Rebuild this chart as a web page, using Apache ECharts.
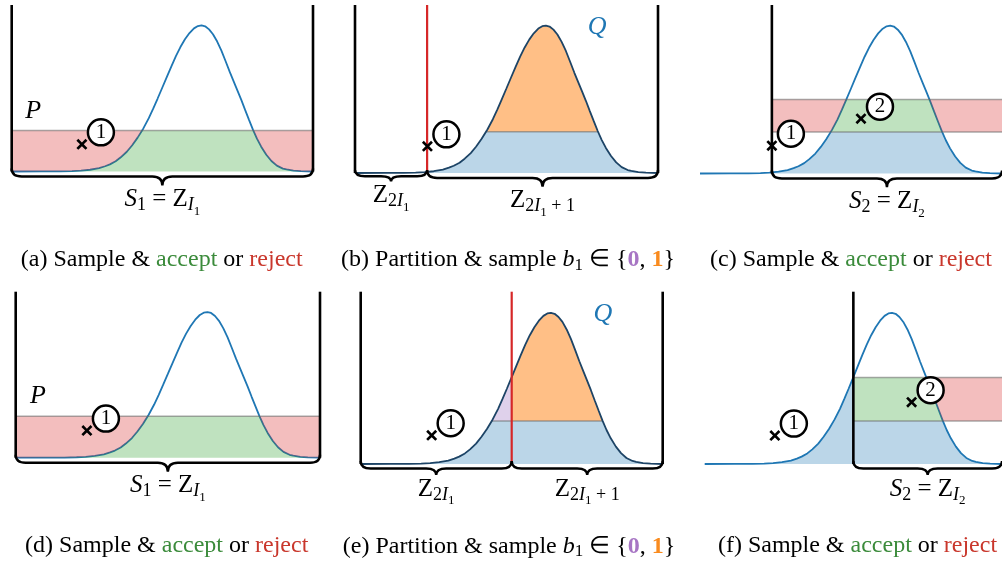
<!DOCTYPE html>
<html><head><meta charset="utf-8">
<script src="https://cdn.jsdelivr.net/npm/echarts@6/dist/echarts.min.js"></script>
<style>html,body{margin:0;padding:0;background:#fff}#c{width:1002px;height:564px}</style>
</head><body><div id="c"></div>
<script>
// ---------- data ----------
// density curve Q (x in panel units 0..10, height relative to peak)
const curveX = [0.0,1.0,1.6,2.0,2.3,2.6,2.9,3.1,3.26,3.45,3.62,3.82,4.0,4.18,4.37,4.55,4.70,4.84,5.0,5.15,5.30,5.45,5.60,5.75,5.90,6.05,6.18,6.30,6.42,6.55,6.68,6.82,6.96,7.10,7.24,7.38,7.50,7.62,7.75,7.88,8.01,8.14,8.28,8.45,8.62,8.80,9.0,9.12,9.35,9.6,10.0];
const curveQ = [0.000,0.001,0.001,0.003,0.006,0.012,0.023,0.036,0.049,0.070,0.097,0.135,0.180,0.232,0.295,0.365,0.432,0.498,0.575,0.648,0.720,0.790,0.852,0.905,0.948,0.980,0.996,1.000,0.994,0.973,0.940,0.890,0.828,0.755,0.680,0.610,0.550,0.490,0.420,0.352,0.285,0.225,0.170,0.115,0.072,0.040,0.020,0.014,0.006,0.002,0.000];
const partitionB = 2.38;          // split Z_{2I1} | Z_{2I1+1} in (b),(c)
const partitionE = 5.0;           // split in (e),(f)
const acceptA = 0.28;             // P level in (a),(b)
const acceptD = 0.285;            // P level in (d),(e)
const bandC = [0.28, 0.50];       // second band in (c)
const bandF = [0.285, 0.573];     // second band in (f)
const markersA = [[2.33, 0.186]];
const markersB = [[2.39, 0.181]];
const markersC = [[2.38, 0.188], [5.33, 0.371]];
const markersD = [[2.34, 0.186]];
const markersE = [[2.35, 0.19]];
const markersF = [[2.36, 0.188], [6.96, 0.409]];
const markerNums1 = ['1'];
const markerNums2 = ['1', '2'];
const labelP = [[0.71, 0.41], [0.73, 0.42]];   // P in (a),(d)
const labelQ = [[7.99, 0.99], [8.02, 0.99]];   // Q in (b),(e)
const braceS1 = '{it|S}{sub|1}{rm| = Z}{subit|I}{subsub|1}';
const braceS2 = '{it|S}{sub|2}{rm| = Z}{subit|I}{subsub|2}';
const braceZ0 = '{rm|Z}{sub|2}{subit|I}{subsub|1}';
const braceZ1 = '{rm|Z}{sub|2}{subit|I}{subsub|1}{sub| + 1}';
const captions = [
  '{rm|(a) Sample & }{g|accept}{rm| or }{r|reject}',
  '{rm|(b) Partition & sample }{it|b}{sub|1}{rm| ∈ {}{p|0}{rm|, }{o|1}}',
  '{rm|(c) Sample & }{g|accept}{rm| or }{r|reject}',
  '{rm|(d) Sample & }{g|accept}{rm| or }{r|reject}',
  '{rm|(e) Partition & sample }{it|b}{sub|1}{rm| ∈ {}{p|0}{rm|, }{o|1}}',
  '{rm|(f) Sample & }{g|accept}{rm| or }{r|reject}'
];

// ---------- styling / layout ----------
const YMAX = 1.14;
const SERIF = "'Liberation Serif','Times New Roman',serif";
const COL = {green:'rgba(44,160,44,0.3)', red:'rgba(214,39,40,0.3)', blue:'rgba(31,119,180,0.3)',
             orange:'rgba(255,127,14,0.5)', purple:'rgba(148,103,189,0.3)'};
const captionPos = [[161.7,260],[508,260],[851,260],[166.7,546],[509,546.5],[857.5,546]];
const boxes = [
  {left:11.7, top:5, width:301.3, height:166.5},
  {left:355, top:5, width:303, height:168},
  {left:700, top:5, width:302, height:168.5},
  {left:15.7, top:291.7, width:304.3, height:166},
  {left:360.7, top:291.7, width:302, height:172.3},
  {left:704.7, top:291.7, width:302, height:172.3}
];
const CROSS = 'path://M1.7,0L5,3.3L8.3,0L10,1.7L6.7,5L10,8.3L8.3,10L5,6.7L1.7,10L0,8.3L3.3,5L0,1.7Z';

function richFor(sz){
  const b = {fontFamily:SERIF};
  const s1 = Math.round(sz*0.7), s2 = Math.round(sz*0.52);
  const mk = (o)=>Object.assign({}, b, o);
  return {
    rm: mk({fontSize:sz, fill:'#000', color:'#000'}),
    it: mk({fontSize:sz, fontStyle:'italic', fill:'#000', color:'#000'}),
    sub: mk({fontSize:s1, padding:[Math.round(sz*0.46),0,0,0], fill:'#000', color:'#000'}),
    subit: mk({fontSize:s1, fontStyle:'italic', padding:[Math.round(sz*0.46),0,0,0], fill:'#000', color:'#000'}),
    subsub: mk({fontSize:s2, padding:[Math.round(sz*0.95),0,0,0], fill:'#000', color:'#000'}),
    g: mk({fontSize:sz, fill:'#3b8b3b', color:'#3b8b3b'}),
    r: mk({fontSize:sz, fill:'#c9372c', color:'#c9372c'}),
    p: mk({fontSize:sz, fontWeight:'bold', fill:'#a775c4', color:'#a775c4'}),
    o: mk({fontSize:sz, fontWeight:'bold', fill:'#f98b1e', color:'#f98b1e'})
  };
}

// ---------- geometry helpers (polyline of the curve) ----------
function qAt(x){
  if (x <= curveX[0]) return curveQ[0];
  for (let i=0;i<curveX.length-1;i++){
    if (x <= curveX[i+1]){ const t=(x-curveX[i])/(curveX[i+1]-curveX[i]); return curveQ[i]+t*(curveQ[i+1]-curveQ[i]); }
  }
  return curveQ[curveQ.length-1];
}
function refined(xa, xb, levels){
  const pts = [[xa, qAt(xa)]];
  for (let i=0;i<curveX.length-1;i++){
    const x0=curveX[i], x1=curveX[i+1], y0=curveQ[i], y1=curveQ[i+1];
    const cs=[];
    levels.forEach(l=>{ if ((y0-l)*(y1-l)<0){ cs.push(x0+(l-y0)/(y1-y0)*(x1-x0)); } });
    cs.sort((a,b)=>a-b).forEach(cx=>{ if (cx>xa && cx<xb) pts.push([cx, qAt(cx)]); });
    if (x1>xa && x1<xb) pts.push([x1, y1]);
  }
  pts.push([xb, qAt(xb)]);
  return pts;
}
const clamp=(v,a,b)=>Math.max(a,Math.min(b,v));
function regionPoly(r){
  const lv=[r.lo, r.hi].filter(isFinite);
  const pts = refined(r.xa, r.xb, lv);
  if (r.t==='in'){
    return pts.map(p=>[p[0], clamp(p[1], r.lo, r.hi)]).concat([[r.xb, r.lo],[r.xa, r.lo]]);
  }
  return [[r.xa, r.hi],[r.xb, r.hi]].concat(pts.reverse().map(p=>[p[0], clamp(p[1], r.lo, r.hi)]));
}
function edgePts(e){
  if (!e.under) return [[e.xa, e.y],[e.xb, e.y]];
  const pts = refined(e.xa, e.xb, [e.y]).filter(p=>p[1] >= e.y-1e-9);
  const xs = pts.map(p=>p[0]);
  return [[Math.min(...xs), e.y],[Math.max(...xs), e.y]];
}

// ---------- panels ----------
const panels = [
  {navy:false, walls:[[0,'#000'],[10,'#000']],
   fills:[{t:'in',xa:0,xb:10,lo:0,hi:acceptA,color:COL.green},{t:'above',xa:0,xb:10,lo:0,hi:acceptA,color:COL.red}],
   edges:[{y:acceptA,xa:0,xb:10}], braces:[[0,10,braceS1]], marks:markersA, nums:markerNums1, P:labelP[0]},
  {navy:true, walls:[[0,'#000'],[10,'#000'],[partitionB,'#d62728']],
   fills:[{t:'in',xa:partitionB,xb:10,lo:0,hi:acceptA,color:COL.blue},{t:'in',xa:partitionB,xb:10,lo:acceptA,hi:Infinity,color:COL.orange}],
   edges:[{y:acceptA,xa:partitionB,xb:10,under:true}], braces:[[0,partitionB,braceZ0],[partitionB,10,braceZ1]], marks:markersB, nums:markerNums1, Q:labelQ[0]},
  {navy:false, walls:[[partitionB,'#000']],
   fills:[{t:'in',xa:partitionB,xb:10,lo:0,hi:bandC[0],color:COL.blue},{t:'in',xa:partitionB,xb:10,lo:bandC[0],hi:bandC[1],color:COL.green},{t:'above',xa:partitionB,xb:10,lo:bandC[0],hi:bandC[1],color:COL.red}],
   edges:[{y:bandC[0],xa:partitionB,xb:10},{y:bandC[1],xa:partitionB,xb:10}], braces:[[partitionB,10,braceS2]], marks:markersC, nums:markerNums2},
  {navy:false, walls:[[0,'#000'],[10,'#000']],
   fills:[{t:'in',xa:0,xb:10,lo:0,hi:acceptD,color:COL.green},{t:'above',xa:0,xb:10,lo:0,hi:acceptD,color:COL.red}],
   edges:[{y:acceptD,xa:0,xb:10}], braces:[[0,10,braceS1]], marks:markersD, nums:markerNums1, P:labelP[1]},
  {navy:true, walls:[[0,'#000'],[10,'#000'],[partitionE,'#d62728']],
   fills:[{t:'in',xa:0,xb:10,lo:0,hi:acceptD,color:COL.blue},{t:'in',xa:0,xb:partitionE,lo:acceptD,hi:Infinity,color:COL.purple},{t:'in',xa:partitionE,xb:10,lo:acceptD,hi:Infinity,color:COL.orange}],
   edges:[{y:acceptD,xa:0,xb:10,under:true}], braces:[[0,partitionE,braceZ0],[partitionE,10,braceZ1]], marks:markersE, nums:markerNums1, Q:labelQ[1]},
  {navy:false, walls:[[partitionE,'#000']],
   fills:[{t:'in',xa:0,xb:partitionE,lo:0,hi:Infinity,color:COL.blue},{t:'in',xa:partitionE,xb:10,lo:0,hi:bandF[0],color:COL.blue},{t:'in',xa:partitionE,xb:10,lo:bandF[0],hi:bandF[1],color:COL.green},{t:'above',xa:partitionE,xb:10,lo:bandF[0],hi:bandF[1],color:COL.red}],
   edges:[{y:bandF[0],xa:partitionE,xb:10},{y:bandF[1],xa:partitionE,xb:10}], braces:[[partitionE,10,braceS2]], marks:markersF, nums:markerNums2}
];

const option = {animation:false, backgroundColor:'#fff', grid:[], xAxis:[], yAxis:[], series:[], graphic:[]};
const richMath = richFor(25);
const richCap = richFor(24);

panels.forEach((p,k)=>{
  option.grid.push(Object.assign({show:false}, boxes[k]));
  option.xAxis.push({type:'value', gridIndex:k, min:0, max:10, show:false});
  option.yAxis.push({type:'value', gridIndex:k, min:0, max:YMAX, show:false});
  const ax = {xAxisIndex:k, yAxisIndex:k, silent:true};
  // curve
  option.series.push(Object.assign({type:'line', data:curveX.map((x,i)=>[x,curveQ[i]]), symbol:'none', showSymbol:false,
    lineStyle:{color:p.navy?'#1d4466':'#1f77b4', width:1.8}, z:p.navy?6:2, clip:false}, ax));
  // fills
  option.series.push(Object.assign({type:'custom', z:3, clip:false, data:p.fills.map((f,i)=>[f.xa, f.lo, i]),
    renderItem:(params, api)=>{
      const r = p.fills[params.dataIndex];
      return {type:'polygon', shape:{points:regionPoly(r).map(q=>api.coord(q))}, style:{fill:r.color, stroke:null}};
    }}, ax));
  // band edges
  option.series.push(Object.assign({type:'custom', z:4, clip:false, data:p.edges.map((e,i)=>[e.xa, e.y, i]),
    renderItem:(params, api)=>{
      const e = p.edges[params.dataIndex];
      return {type:'polyline', shape:{points:edgePts(e).map(q=>api.coord(q))}, style:{stroke:'rgba(100,100,100,0.55)', lineWidth:1.5, fill:null}};
    }}, ax));
  // walls and partition line
  option.series.push(Object.assign({type:'custom', z:7, clip:false, data:p.walls.map((w,i)=>[w[0], 0, i]),
    renderItem:(params, api)=>{
      const w = p.walls[params.dataIndex];
      const a = api.coord([w[0],0]), b = api.coord([w[0],YMAX]);
      return {type:'line', shape:{x1:a[0],y1:a[1],x2:b[0],y2:b[1]}, style:{stroke:w[1], lineWidth:w[1]==='#000'?2.6:2.2}};
    }}, ax));
  // braces with labels
  option.series.push(Object.assign({type:'custom', z:7, clip:false, data:p.braces.map((b,i)=>[b[0], 0, i]),
    renderItem:(params, api)=>{
      const br = p.braces[params.dataIndex];
      const a = api.coord([br[0],0]), c = api.coord([br[1],0]);
      const y=a[1], xa=a[0], xb=c[0], xm=(xa+xb)/2, W=xb-xa;
      const tip=Math.min(14, 6+W/30), h=Math.min(5, 2+W/60), r=Math.min(10, W/7);
      const d = `M${xa},${y-3}Q${xa},${y+h} ${xa+r},${y+h}L${xm-r},${y+h}Q${xm},${y+h} ${xm},${y+tip}Q${xm},${y+h} ${xm+r},${y+h}L${xb-r},${y+h}Q${xb},${y+h} ${xb},${y-3}`;
      return {type:'group', children:[
        {type:'path', shape:{pathData:d}, style:{fill:'none', stroke:'#000', lineWidth:2.4}},
        {type:'text', x:xm, y:y+tip+14, style:{text:br[2], align:'center', verticalAlign:'middle', rich:richMath, fontFamily:SERIF, fontSize:25, fill:'#000'}}
      ]};
    }}, ax));
  // sample crosses
  option.series.push(Object.assign({type:'scatter', data:p.marks, symbol:CROSS, symbolSize:11, itemStyle:{color:'#000', opacity:1}, z:8}, ax));
  // circled step numbers
  option.series.push(Object.assign({type:'scatter', data:p.marks.map((m,i)=>({value:m, label:{formatter:p.nums[i]}})),
    symbol:'circle', symbolSize:26, symbolOffset:[19,-12], itemStyle:{color:'#fff', borderColor:'#000', borderWidth:2.5, opacity:1},
    label:{show:true, position:'inside', color:'#000', fontFamily:SERIF, fontSize:21, opacity:1}, z:9}, ax));
  if (p.P) option.series.push(Object.assign({type:'scatter', data:[p.P], symbolSize:1, itemStyle:{color:'rgba(0,0,0,0)', opacity:1},
    label:{show:true, position:'inside', formatter:'P', color:'#000', fontFamily:SERIF, fontStyle:'italic', fontSize:26, opacity:1}, z:9}, ax));
  if (p.Q) option.series.push(Object.assign({type:'scatter', data:[p.Q], symbolSize:1, itemStyle:{color:'rgba(0,0,0,0)', opacity:1},
    label:{show:true, position:'inside', formatter:'Q', color:'#1f77b4', fontFamily:SERIF, fontStyle:'italic', fontSize:26, opacity:1}, z:9}, ax));
  // caption
  option.graphic.push({type:'text', x:captionPos[k][0], y:captionPos[k][1], silent:true,
    style:{text:captions[k], align:'center', verticalAlign:'middle', rich:richCap, fontFamily:SERIF, fontSize:24, fill:'#000'}});
});

const chart = echarts.init(document.getElementById('c'), null, {renderer:'canvas'});
chart.setOption(option);
</script></body></html>
